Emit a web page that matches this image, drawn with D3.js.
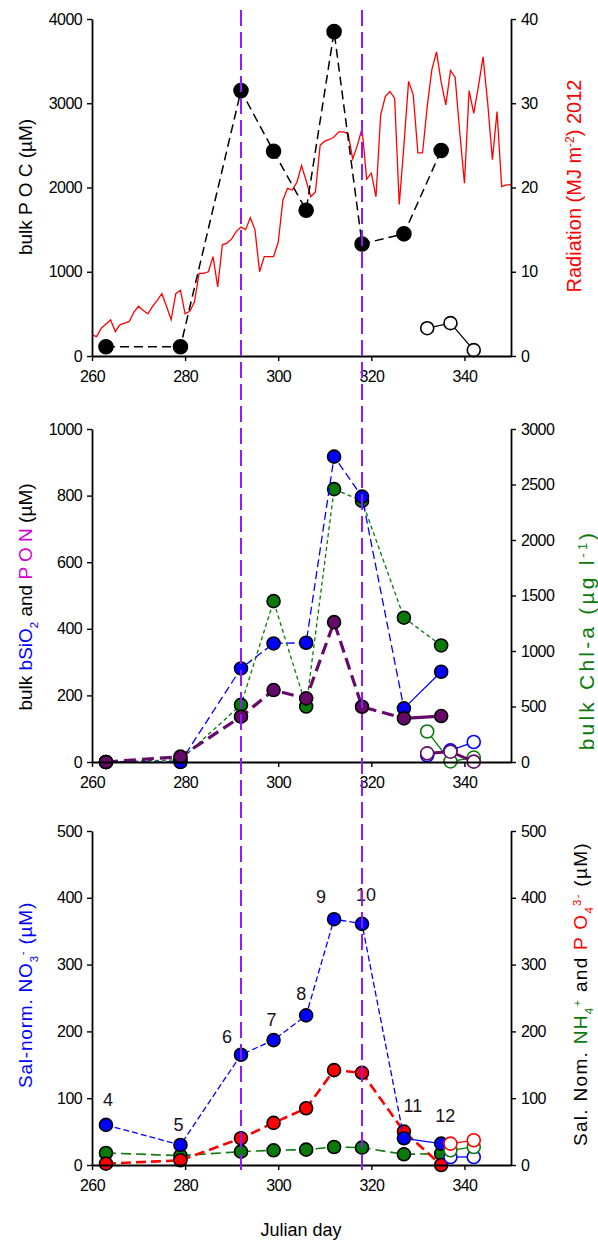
<!DOCTYPE html>
<html>
<head>
<meta charset="utf-8">
<script src="https://cdn.jsdelivr.net/npm/d3@7"></script>
<style>
  html, body { margin: 0; padding: 0; background: #fff; }
  svg { display: block; font-family: Arial, "Liberation Sans", sans-serif; }
  .tick text { font-size: 16px; letter-spacing: -0.6px; fill: #000; }
</style>
</head>
<body>
<svg id="chart" width="598" height="1240"></svg>
<script>
// Sampling days (Julian day) of the station series
const stationDays = [263, 279, 292, 299, 306, 312, 318, 327, 335];
const stationNames = ["4", "5", "6", "7", "8", "9", "10", "11", "12"];
const openDays = [332, 337, 342];
const openDaysNutrients = [337, 342];
const transitionDays = [292, 318];

// Panel 1: bulk POC (µM) and daily radiation (MJ m-2)
const pocFilled = [110, 110, 3150, 2430, 1730, 3850, 1330, 1450, 2440];
const pocOpen = [330, 390, 70];
const radiationStartDay = 260;
const radiation = [
  2.5, 2.3, 3.3, 3.8, 4.3, 2.9, 3.7, 3.9, 4.1, 5.2,
  5.9, 5.4, 5.0, 5.9, 6.6, 7.4, 5.9, 4.3, 7.4, 7.8,
  5.0, 5.3, 6.4, 9.8, 9.8, 10.0, 11.8, 8.2, 13.2, 13.4,
  13.9, 14.8, 15.3, 15.0, 16.4, 15.0, 10.0, 11.8, 11.8, 11.8,
  13.5, 18.5, 19.9, 19.7, 20.6, 22.6, 20.8, 18.9, 19.5, 25.0,
  25.5, 25.7, 26.0, 26.6, 26.6, 26.4, 23.4, 25.0, 27.0, 21.0,
  21.7, 18.9, 28.6, 30.8, 31.4, 30.6, 18.0, 25.0, 32.6, 31.0,
  24.1, 24.1, 29.6, 34.0, 36.1, 32.5, 29.8, 33.9, 33.1, 26.5,
  20.5, 31.5, 28.8, 32.0, 35.5, 30.0, 23.3, 29.0, 20.1, 20.3,
  20.3
];

// Panel 2: bulk bSiO2, PON (µM) and Chl-a (µg l-1)
const bsio2 = [0, 0, 281, 356, 358, 917, 797, 161, 271];
const bsio2Open = [20, 35, 60];
const pon = [0, 16, 136, 216, 191, 420, 166, 131, 138];
const ponOpen = [26, 31, 1];
const chla = [0, 20, 515, 1449, 500, 2458, 2352, 1300, 1050];
const chlaOpen = [275, 5, 40];

// Panel 3: salinity-normalised nutrients (µM)
const no3 = [60, 30, 165, 187, 224, 368, 361, 40, 32];
const no3Open = [12, 12];
const nh4 = [18, 14, 20, 22, 23, 27, 26, 16, 17];
const nh4Open = [22, 27];
const po4 = [2, 7, 40, 63, 85, 142, 138, 50, 0];
const po4Open = [32, 37];

// Axis ticks
const dayTicks = [260, 280, 300, 320, 340];
const pocTicks = [0, 1000, 2000, 3000, 4000];
const radTicks = [0, 10, 20, 30, 40];
const bulkTicks = [0, 200, 400, 600, 800, 1000];
const chlTicks = [0, 500, 1000, 1500, 2000, 2500, 3000];
const nutTicks = [0, 100, 200, 300, 400, 500];

const C = {
  blue: "#0000ff", green: "#0a7a0a", purple: "#650a68", red: "#ff0000",
  magenta: "#d400d4", violet: "#8c1cff", black: "#000"
};

const svg = d3.select("#chart");
const L = 92, R = 511;
const x = d3.scaleLinear().domain([260, 350]).range([L, R]);

const panels = [
  { top: 19, bottom: 356 },
  { top: 429, bottom: 762 },
  { top: 831, bottom: 1165 }
];

function range(a, b, s) { return d3.range(a, b + s / 2, s); }

function drawAxes(p, yl, yr, lTicks, lMinor, rTicks, rMinor) {
  const g = svg.append("g");
  const bx = g.append("g").attr("transform", `translate(0,${p.bottom})`);
  bx.call(d3.axisBottom(x).tickValues(range(260, 348, 4)).tickFormat("").tickSize(3).tickSizeOuter(0));
  bx.call(d3.axisBottom(x).tickValues(dayTicks).tickFormat(d3.format("d")).tickSize(5).tickPadding(10).tickSizeOuter(0));
  const lx = g.append("g").attr("transform", `translate(${L},0)`);
  lx.call(d3.axisLeft(yl).tickValues(lMinor).tickFormat("").tickSize(3).tickSizeOuter(0));
  lx.call(d3.axisLeft(yl).tickValues(lTicks).tickFormat(d3.format("d")).tickSize(5).tickPadding(5).tickSizeOuter(0));
  const rx = g.append("g").attr("transform", `translate(${R},0)`);
  rx.call(d3.axisRight(yr).tickValues(rMinor).tickFormat("").tickSize(3).tickSizeOuter(0));
  rx.call(d3.axisRight(yr).tickValues(rTicks).tickFormat(d3.format("d")).tickSize(5).tickPadding(5).tickSizeOuter(0));
  g.selectAll(".domain").attr("stroke", "#000").attr("stroke-width", 1.8);
  g.selectAll(".tick line").attr("stroke", "#000").attr("stroke-width", 1.4);
  g.selectAll(".tick text").attr("font-family", "Arial, 'Liberation Sans', sans-serif");
}

function series(xs, ys, yScale, opt) {
  const pts = xs.map((d, i) => [x(d), yScale(ys[i])]);
  if (opt.line !== false) {
    svg.append("path")
      .attr("d", d3.line()(opt.lineFrom ? pts.slice(0, opt.lineFrom) : pts))
      .attr("fill", "none")
      .attr("stroke", opt.stroke)
      .attr("stroke-width", opt.width || 1.3)
      .attr("stroke-dasharray", opt.dash || null);
  }
  if (opt.tail) {
    svg.append("path")
      .attr("d", d3.line()(pts.slice(-2)))
      .attr("fill", "none")
      .attr("stroke", opt.stroke)
      .attr("stroke-width", opt.width || 1.3);
  }
  svg.append("g").selectAll("circle").data(pts).join("circle")
    .attr("cx", d => d[0]).attr("cy", d => d[1])
    .attr("r", opt.r || 6.5)
    .attr("fill", opt.open ? "#fff" : opt.fill)
    .attr("stroke", opt.open ? opt.stroke : "#000")
    .attr("stroke-width", 1.6);
  return pts;
}

function vLabel(cx, cy, size, parts, fill, spacing) {
  const t = svg.append("text")
    .attr("transform", `translate(${cx},${cy}) rotate(-90)`)
    .attr("text-anchor", "middle").attr("dy", "0.35em")
    .attr("font-size", size).attr("fill", fill || "#000")
    .attr("letter-spacing", spacing || 0);
  parts.forEach(p => {
    const s = t.append("tspan").text(p.t).attr("fill", p.c || fill || "#000");
    if (p.sup) s.attr("baseline-shift", "super").attr("font-size", size * 0.6);
    if (p.sub) s.attr("baseline-shift", "sub").attr("font-size", size * 0.6);
  });
  return t;
}

// ---------- Panel 1 ----------
const p1 = panels[0];
const yPoc = d3.scaleLinear().domain([0, 4000]).range([p1.bottom, p1.top]);
const yRad = d3.scaleLinear().domain([0, 40]).range([p1.bottom, p1.top]);

svg.append("path")
  .attr("d", d3.line().x((d, i) => x(radiationStartDay + i)).y(d => yRad(d))(radiation))
  .attr("fill", "none").attr("stroke", C.red).attr("stroke-width", 1.3);

series(stationDays, pocFilled, yPoc, { stroke: C.black, fill: C.black, width: 1.5, dash: "9,5", r: 7 });
series(openDays, pocOpen, yPoc, { stroke: C.black, open: true, width: 1.3 });

drawAxes(p1, yPoc, yRad, pocTicks, range(0, 4000, 200), radTicks, range(0, 40, 2));
vLabel(25, 187, 19, [{ t: "bulk P O C (µM)" }]);
vLabel(574, 186, 20, [{ t: "Radiation (MJ m" }, { t: "-2", sup: true }, { t: ") 2012" }], C.red);

// ---------- Panel 2 ----------
const p2 = panels[1];
const yBulk = d3.scaleLinear().domain([0, 1000]).range([p2.bottom, p2.top]);
const yChl = d3.scaleLinear().domain([0, 3000]).range([p2.bottom, p2.top]);

series(stationDays, chla, yChl, { stroke: C.green, fill: C.green, width: 1.3, dash: "4,3" });
series(stationDays, bsio2, yBulk, { stroke: C.blue, fill: C.blue, width: 1.3, dash: "8,4", lineFrom: 8, tail: true });
series(stationDays, pon, yBulk, { stroke: C.purple, fill: C.purple, width: 3.2, dash: "12,6", lineFrom: 8, tail: true });
series(openDays, chlaOpen, yChl, { stroke: C.green, open: true });
series(openDays, bsio2Open, yBulk, { stroke: C.blue, open: true });
series(openDays, ponOpen, yBulk, { stroke: C.purple, open: true, width: 3 });

drawAxes(p2, yBulk, yChl, bulkTicks, range(0, 1000, 40), chlTicks, range(0, 3000, 100));
vLabel(25, 597, 19, [
  { t: "bulk " }, { t: "bSiO", c: C.blue }, { t: "2", sub: true, c: C.blue },
  { t: " and " }, { t: "P O N", c: C.magenta }, { t: " (µM)" }
]);
vLabel(587, 640, 21, [{ t: "bulk Chl-a (µg l" }, { t: "-1", sup: true }, { t: ")" }], C.green, 3.2);

// ---------- Panel 3 ----------
const p3 = panels[2];
const yNo3 = d3.scaleLinear().domain([0, 500]).range([p3.bottom, p3.top]);
const yNut = d3.scaleLinear().domain([0, 500]).range([p3.bottom, p3.top]);

series(stationDays, nh4, yNut, { stroke: C.green, fill: C.green, width: 1.6, dash: "10,5" });
series(stationDays, po4, yNut, { stroke: C.red, fill: C.red, width: 2.6, dash: "10,5" });
const no3Pts = series(stationDays, no3, yNo3, { stroke: C.blue, fill: C.blue, width: 1.3, dash: "6,3", lineFrom: 8, tail: true });
series(openDaysNutrients, no3Open, yNo3, { stroke: C.blue, open: true });
series(openDaysNutrients, nh4Open, yNut, { stroke: C.green, open: true });
series(openDaysNutrients, po4Open, yNut, { stroke: C.red, open: true });

drawAxes(p3, yNo3, yNut, nutTicks, range(0, 500, 20), nutTicks, range(0, 500, 20));

// station numbers above the nitrate points
const labelOffsets = [[2, -25], [-2, -20], [-14, -18], [-2, -20], [-5, -22], [-13, -22], [4, -29], [9, -33], [4, -28]];
svg.append("g").selectAll("text").data(stationNames).join("text")
  .attr("x", (d, i) => no3Pts[i][0] + labelOffsets[i][0])
  .attr("y", (d, i) => no3Pts[i][1] + labelOffsets[i][1])
  .attr("dy", "0.35em").attr("text-anchor", "middle")
  .attr("font-size", 18).attr("fill", "#1a1020")
  .text(d => d);

vLabel(25, 995, 19, [{ t: "Sal-norm. NO" }, { t: "3", sub: true }, { t: "-", sup: true }, { t: " (µM)" }], C.blue, 0.8);
vLabel(580, 994, 19, [
  { t: "Sal. Nom. " }, { t: "NH", c: C.green }, { t: "4", sub: true, c: C.green }, { t: "+", sup: true, c: C.green },
  { t: " and " }, { t: "P O", c: C.red }, { t: "4", sub: true, c: C.red }, { t: "3-", sup: true, c: C.red },
  { t: " (µM)" }
], "#000", 1.3);

svg.append("text").attr("x", 301).attr("y", 1236).attr("text-anchor", "middle")
  .attr("font-size", 18).text("Julian day");

// transition markers across all panels
svg.append("g").selectAll("line").data(transitionDays).join("line")
  .attr("x1", d => x(d)).attr("x2", d => x(d))
  .attr("y1", 10).attr("y2", 1170)
  .attr("stroke", C.violet).attr("stroke-width", 2)
  .attr("stroke-dasharray", "16,6");
</script>
</body>
</html>
